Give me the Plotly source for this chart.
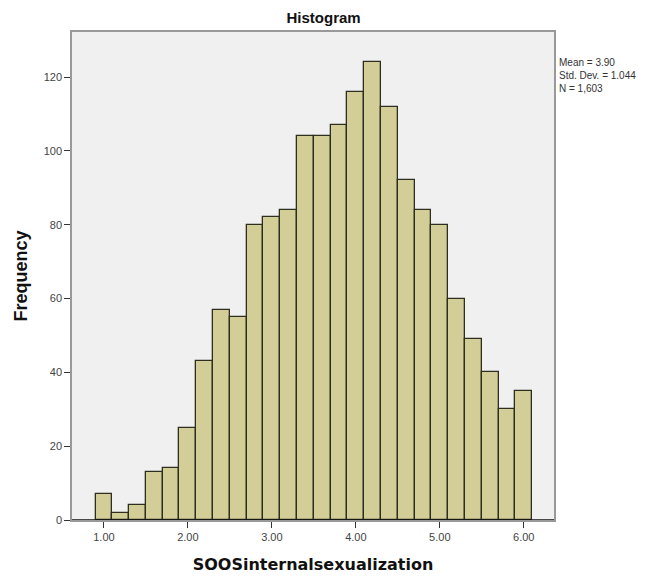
import plotly.graph_objects as go

# Bin centers (width 0.2) and frequencies
bin_centers = [1.0, 1.2, 1.4, 1.6, 1.8, 2.0, 2.2, 2.4, 2.6, 2.8, 3.0, 3.2, 3.4,
               3.6, 3.8, 4.0, 4.2, 4.4, 4.6, 4.8, 5.0, 5.2, 5.4, 5.6, 5.8, 6.0]
frequencies = [7, 2, 4, 13, 14, 25, 43, 57, 55, 80, 82, 84, 104,
               104, 107, 116, 124, 112, 92, 84, 80, 60, 49, 40, 30, 35]
bin_width = 0.2
x_ticks = [1, 2, 3, 4, 5, 6]
x_tick_labels = ["1.00", "2.00", "3.00", "4.00", "5.00", "6.00"]
y_ticks = [0, 20, 40, 60, 80, 100, 120]
stats_text = "Mean = 3.90<br>Std. Dev. = 1.044<br>N = 1,603"

fig = go.Figure()
fig.add_trace(go.Bar(
    x=bin_centers, y=frequencies, width=[bin_width] * len(bin_centers),
    marker=dict(color="#D3CE97", line=dict(color="#2E2E20", width=1.3)),
    hoverinfo="x+y",
))

# page body has an 8px margin, so margins are offset accordingly
fig.update_layout(
    width=663, height=579,
    margin=dict(l=62, r=117, t=24, b=67),
    paper_bgcolor="white",
    plot_bgcolor="#F0F0F0",
    showlegend=False,
    title=dict(text="<b>Histogram</b>", x=0.476, xanchor="center", y=0.984, yanchor="middle",
               font=dict(family="Liberation Sans, Arial, sans-serif", size=15, color="#111")),
    font=dict(family="Liberation Sans, Arial, sans-serif", size=11, color="#444"),
    bargap=0,
)
fig.update_xaxes(
    range=[0.62, 6.36], tickvals=x_ticks, ticktext=x_tick_labels,
    ticks="outside", ticklen=6, tickcolor="#333", tickwidth=1,
    showline=True, linecolor="#999", linewidth=1.5, mirror=True,
    showgrid=False, zeroline=False,
    tickfont=dict(size=11, color="#444"),
    title=dict(text="<b>SOOSinternalsexualization</b>", standoff=17,
               font=dict(family="DejaVu Sans, Verdana, sans-serif", size=16, color="#111")),
)
fig.update_yaxes(
    range=[0, 132.2], tickvals=y_ticks,
    ticks="outside", ticklen=6, tickcolor="#333", tickwidth=1,
    showline=True, linecolor="#999", linewidth=1.5, mirror=True,
    showgrid=False, zeroline=False,
    tickfont=dict(size=11, color="#444"),
    title=dict(text="<b>Frequency</b>", standoff=11,
               font=dict(family="Liberation Sans, Arial, sans-serif", size=18, color="#111")),
)
# bottom axis baseline in black
fig.add_shape(type="line", xref="paper", yref="y", x0=0, x1=1, y0=0, y1=0,
              line=dict(color="#111", width=1.3))
fig.add_annotation(xref="paper", yref="paper", x=1.006, y=0.953, xanchor="left", yanchor="top",
                   text=stats_text, showarrow=False, align="left",
                   font=dict(family="Liberation Sans, Arial, sans-serif", size=10, color="#333"))

fig.write_html("out.html")
